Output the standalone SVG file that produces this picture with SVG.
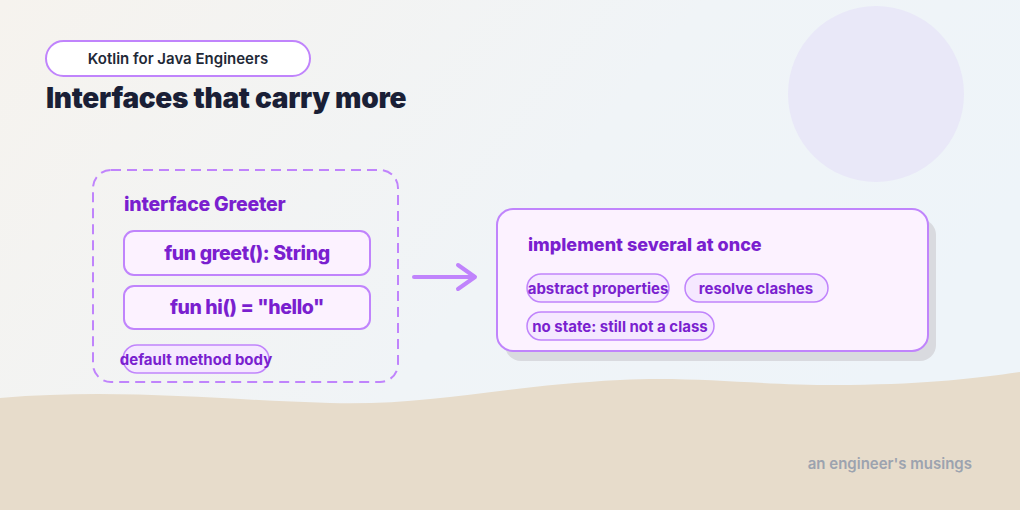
<svg xmlns="http://www.w3.org/2000/svg" width="1020" height="510" viewBox="0 0 1020 510">
<defs>
<linearGradient id="bg" x1="0" y1="0" x2="1" y2="0.4">
<stop offset="0" stop-color="#f6f3ee"/>
<stop offset="0.6" stop-color="#f0f4f7"/>
<stop offset="1" stop-color="#eef4f9"/>
</linearGradient>
<style>
.t{font-family:Inter,"Liberation Sans",sans-serif;}
.p{fill:#7a1fcf;font-weight:800;}
.box{fill:#fcf2ff;stroke:#c084fc;stroke-width:2;}
.chip{fill:#f5e8ff;stroke:#c084fc;stroke-width:1.5;}
.ct{font-size:15px;font-weight:650;fill:#7a1fcf;text-anchor:middle;}
</style>
</defs>
<rect width="1020" height="510" fill="url(#bg)"/>
<circle cx="876" cy="94" r="88" fill="#e9e8f8"/>
<path d="M0 398 C120 388 220 400 330 403 C430 406 500 386 620 380 C700 376 760 386 850 385 C930 384 980 378 1020 372 L1020 510 L0 510 Z" fill="#e7dccb"/>

<g id="header">
<rect x="46" y="41" width="264" height="35" rx="17.5" fill="#ffffff" stroke="#c084fc" stroke-width="2"/>
<text class="t" x="178" y="64" font-size="15" font-weight="600" fill="#1f2937" text-anchor="middle">Kotlin for Java Engineers</text>
<text class="t" x="46" y="108" font-size="28" font-weight="900" fill="#1a1f36" letter-spacing="-0.3">Interfaces that carry more</text>
</g>

<g id="greeter">
<rect x="93" y="170" width="305" height="212" rx="18" fill="none" stroke="#c084fc" stroke-width="2" stroke-dasharray="10 6"/>
<text class="t p" x="124" y="211" font-size="19.5" letter-spacing="-0.2">interface Greeter</text>
</g>
<g id="greet">
<rect class="box" x="124" y="231" width="246" height="44" rx="10"/>
<text class="t p" x="247" y="260" font-size="19.5" letter-spacing="-0.4" text-anchor="middle">fun greet(): String</text>
</g>
<g id="hi">
<rect class="box" x="124" y="286" width="246" height="43" rx="10"/>
<text class="t p" x="247" y="314" font-size="19.5" letter-spacing="-0.4" text-anchor="middle">fun hi() = "hello"</text>
</g>
<g id="default-body">
<rect class="chip" x="123" y="345" width="146" height="28" rx="14"/>
<text class="t ct" x="196" y="365">default method body</text>
</g>

<g id="connectors">
<path d="M414 277 L474 277 M458 265 L475 277 L458 289" fill="none" stroke="#c084fc" stroke-width="4" stroke-linecap="round" stroke-linejoin="round"/>
</g>

<g id="implement">
<rect x="505" y="219" width="431" height="142" rx="16" fill="#d9dadf"/>
<rect class="box" x="497" y="209" width="431" height="142" rx="16"/>
<text class="t p" x="528" y="251" font-size="18">implement several at once</text>
</g>
<g id="abstract-properties">
<rect class="chip" x="527" y="274" width="142" height="28" rx="14"/>
<text class="t ct" x="598" y="294">abstract properties</text>
</g>
<g id="resolve-clashes">
<rect class="chip" x="685" y="274" width="143" height="28" rx="14"/>
<text class="t ct" x="756" y="294">resolve clashes</text>
</g>
<g id="no-state">
<rect class="chip" x="527" y="312" width="187" height="28" rx="14"/>
<text class="t ct" x="620" y="332">no state: still not a class</text>
</g>

<text class="t" x="972" y="469" font-size="15" font-weight="600" fill="#9ca3af" text-anchor="end">an engineer's musings</text>
</svg>
